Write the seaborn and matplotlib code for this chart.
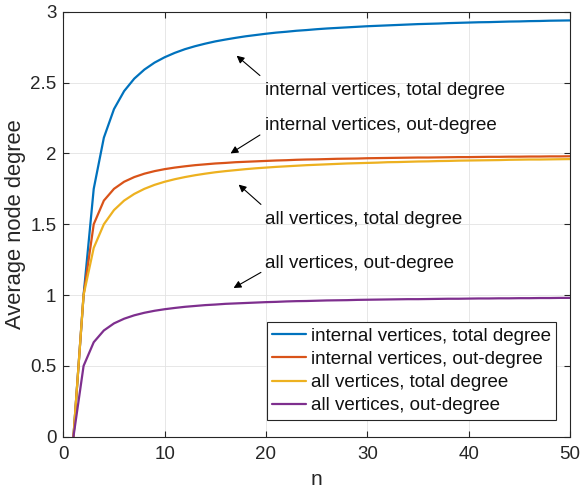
import matplotlib
matplotlib.use("Agg")
import matplotlib.pyplot as plt
import seaborn as sns
import pandas as pd

n = list(range(1, 51))

internal_total = [0.000, 1.000, 1.750, 2.111, 2.313, 2.440, 2.528, 2.592, 2.641, 2.679,
                  2.710, 2.736, 2.757, 2.775, 2.791, 2.804, 2.816, 2.827, 2.836, 2.845,
                  2.853, 2.859, 2.866, 2.871, 2.877, 2.882, 2.886, 2.890, 2.894, 2.898,
                  2.901, 2.904, 2.907, 2.910, 2.913, 2.915, 2.917, 2.920, 2.922, 2.924,
                  2.926, 2.927, 2.929, 2.931, 2.932, 2.934, 2.935, 2.937, 2.938, 2.939]
internal_out = [0.000, 1.000, 1.500, 1.667, 1.750, 1.800, 1.833, 1.857, 1.875, 1.889,
                1.900, 1.909, 1.917, 1.923, 1.929, 1.933, 1.938, 1.941, 1.944, 1.947,
                1.950, 1.952, 1.955, 1.957, 1.958, 1.960, 1.962, 1.963, 1.964, 1.966,
                1.967, 1.968, 1.969, 1.970, 1.971, 1.971, 1.972, 1.973, 1.974, 1.974,
                1.975, 1.976, 1.976, 1.977, 1.977, 1.978, 1.978, 1.979, 1.979, 1.980]
all_total = [0.000, 1.000, 1.333, 1.500, 1.600, 1.667, 1.714, 1.750, 1.778, 1.800,
             1.818, 1.833, 1.846, 1.857, 1.867, 1.875, 1.882, 1.889, 1.895, 1.900,
             1.905, 1.909, 1.913, 1.917, 1.920, 1.923, 1.926, 1.929, 1.931, 1.933,
             1.935, 1.938, 1.939, 1.941, 1.943, 1.944, 1.946, 1.947, 1.949, 1.950,
             1.951, 1.952, 1.953, 1.955, 1.956, 1.957, 1.957, 1.958, 1.959, 1.960]
all_out = [0.000, 0.500, 0.667, 0.750, 0.800, 0.833, 0.857, 0.875, 0.889, 0.900,
           0.909, 0.917, 0.923, 0.929, 0.933, 0.938, 0.941, 0.944, 0.947, 0.950,
           0.952, 0.955, 0.957, 0.958, 0.960, 0.962, 0.963, 0.964, 0.966, 0.967,
           0.968, 0.969, 0.970, 0.971, 0.971, 0.972, 0.973, 0.974, 0.974, 0.975,
           0.976, 0.976, 0.977, 0.977, 0.978, 0.978, 0.979, 0.979, 0.980, 0.980]

series_names = ["internal vertices, total degree", "internal vertices, out-degree",
                "all vertices, total degree", "all vertices, out-degree"]
series_vals = [internal_total, internal_out, all_total, all_out]
colors = ["#0072BD", "#D95319", "#EDB120", "#7E2F8E"]

x_ticks = [0, 10, 20, 30, 40, 50]
y_ticks = [0, 0.5, 1, 1.5, 2, 2.5, 3]
y_tick_labels = ["0", "0.5", "1", "1.5", "2", "2.5", "3"]

annotations = [
    ("internal vertices, total degree", (17.1, 2.69), (19.4, 2.55), (19.9, 2.445)),
    ("internal vertices, out-degree", (16.5, 2.00), (19.4, 2.13), (19.9, 2.20)),
    ("all vertices, total degree", (17.3, 1.78), (19.5, 1.64), (19.9, 1.53)),
    ("all vertices, out-degree", (16.8, 1.05), (19.5, 1.16), (19.9, 1.225)),
]

rows = []
for name, vals in zip(series_names, series_vals):
    for xi, yi in zip(n, vals):
        rows.append({"n": xi, "value": yi, "series": name})
df = pd.DataFrame(rows)

sns.set_theme(style="white")
plt.rcParams["font.family"] = ["Liberation Sans", "DejaVu Sans"]

fig = plt.figure(figsize=(5.82, 4.91), dpi=100)
ax = fig.add_axes([0.1088, 0.1106, 0.9794 - 0.1088, 0.976 - 0.1106])

sns.lineplot(data=df, x="n", y="value", hue="series", hue_order=series_names,
             palette=colors, linewidth=1.6, ax=ax, legend=True)

ax.set_xlim(0, 50)
ax.set_ylim(0, 3)
ax.set_xticks(x_ticks)
ax.set_yticks(y_ticks)
ax.set_yticklabels(y_tick_labels)
ax.grid(True, color="#e3e3e3", linewidth=0.6)
ax.set_axisbelow(True)
for s in ax.spines.values():
    s.set_color("#262626")
    s.set_linewidth(0.8)
    s.set_visible(True)
ax.tick_params(direction="in", length=4, width=0.8, colors="#262626",
               labelsize=13.5, top=True, right=True, bottom=True, left=True,
               labelcolor="#262626")
ax.tick_params(axis="x", pad=7)
ax.tick_params(axis="y", pad=5)
ax.set_xlabel("n", fontsize=15, color="#262626", labelpad=5)
ax.set_ylabel("Average node degree", fontsize=15.8, color="#262626", labelpad=3)

for text, head, tail, tpos in annotations:
    ax.annotate("", xy=head, xytext=tail,
                arrowprops=dict(arrowstyle="-|>", color="black", lw=0.8,
                                mutation_scale=11, shrinkA=0, shrinkB=0))
    ax.text(tpos[0], tpos[1], text, fontsize=13.5, color="#111111",
            ha="left", va="center")

leg = ax.legend(loc="lower right", bbox_to_anchor=(1 - 14 / 507, 17 / 425),
                borderaxespad=0, fontsize=13.5, frameon=True, fancybox=False,
                edgecolor="#262626", framealpha=1, handlelength=1.8,
                handletextpad=0.27, labelspacing=0.33, borderpad=0.28,
                title=None)
leg.get_frame().set_linewidth(0.8)
for t in leg.get_texts():
    t.set_color("#111111")

fig.savefig("out.png", dpi=100)
